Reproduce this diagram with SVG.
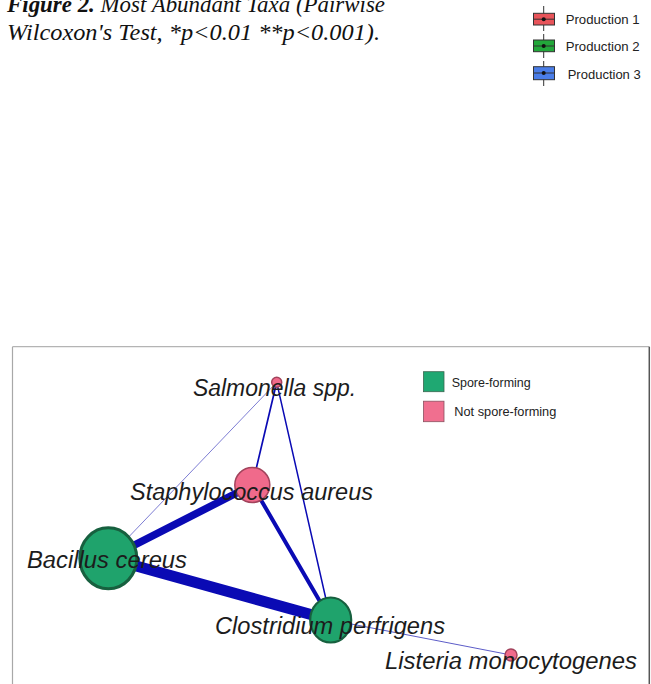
<svg xmlns="http://www.w3.org/2000/svg" width="651" height="684" viewBox="0 0 651 684">
<style>
.cap{font-family:"Liberation Serif","Times New Roman",serif;font-style:italic;font-size:24px;fill:#111}
.lg{font-family:"Liberation Sans",Arial,sans-serif;font-size:13px;fill:#222}
.lbl{font-family:"Liberation Sans",Arial,sans-serif;font-style:italic;font-size:23px;fill:#1c1c1c}
.pink{fill:#f06a8b;stroke:#a2435c;stroke-width:1.5}
.green{fill:#1fa36c;stroke:#17603f;stroke-width:3}
.e{stroke:#0a0ab4;fill:none;stroke-linecap:round}
.box{stroke:#333;stroke-width:1}
</style>
<rect width="651" height="684" fill="#fff"/>
<g id="caption">
<text class="cap" x="7" y="12" textLength="378" lengthAdjust="spacingAndGlyphs"><tspan font-weight="bold">Figure 2.</tspan> Most Abundant Taxa (Pairwise</text>
<text class="cap" x="7" y="39.5" textLength="373" lengthAdjust="spacingAndGlyphs">Wilcoxon's Test, *p&lt;0.01 **p&lt;0.001).</text>
</g>
<g id="production-legend">
<g id="prod1">
<line x1="543.7" y1="6" x2="543.7" y2="31" stroke="#333" stroke-width="1"/>
<rect class="box" x="533.5" y="13.3" width="21" height="11.7" fill="#e8545a"/>
<line x1="533.5" y1="19.2" x2="554.5" y2="19.2" stroke="#333"/>
<circle cx="543.7" cy="19.2" r="2" fill="#111"/>
<text class="lg" x="565.7" y="24" textLength="74" lengthAdjust="spacingAndGlyphs">Production 1</text>
</g>
<g id="prod2">
<line x1="543.7" y1="34" x2="543.7" y2="58" stroke="#333" stroke-width="1"/>
<rect class="box" x="533.5" y="40" width="21" height="11.7" fill="#22a83a"/>
<line x1="533.5" y1="46" x2="554.5" y2="46" stroke="#333"/>
<circle cx="543.7" cy="46" r="2" fill="#111"/>
<text class="lg" x="565.7" y="50.5" textLength="74" lengthAdjust="spacingAndGlyphs">Production 2</text>
</g>
<g id="prod3">
<line x1="543.7" y1="61" x2="543.7" y2="86" stroke="#333" stroke-width="1"/>
<rect class="box" x="533.5" y="66.7" width="21" height="13" fill="#4a7de8"/>
<line x1="533.5" y1="73" x2="554.5" y2="73" stroke="#333"/>
<circle cx="543.7" cy="73" r="2" fill="#111"/>
<text class="lg" x="567.7" y="79" textLength="73" lengthAdjust="spacingAndGlyphs">Production 3</text>
</g>
</g>
<g id="frame">
<line x1="12.5" y1="346.7" x2="649.3" y2="346.7" stroke="#b4b4b4" stroke-width="1.2"/>
<line x1="12.5" y1="346.7" x2="12.5" y2="684" stroke="#a8a8a8" stroke-width="1.2"/>
<line x1="649.3" y1="346.7" x2="649.3" y2="684" stroke="#555" stroke-width="1.5"/>
</g>
<g id="spore-legend">
<rect x="423.5" y="371.7" width="20.5" height="20" fill="#1fa872" stroke="#3a6650" stroke-width="0.8"/>
<text class="lg" x="451.7" y="386.5" textLength="79" lengthAdjust="spacingAndGlyphs">Spore-forming</text>
<rect x="423.5" y="401.2" width="20.5" height="20.5" fill="#f06f8f" stroke="#8a5060" stroke-width="0.8"/>
<text class="lg" x="454.3" y="416" textLength="102" lengthAdjust="spacingAndGlyphs">Not spore-forming</text>
</g>
<g id="connectors">
<line class="e" x1="276.7" y1="382.3" x2="108.3" y2="558.3" stroke-width="0.8" style="stroke:#5c5cc8"/>
<line class="e" x1="276.7" y1="382.3" x2="252.3" y2="485" stroke-width="1.7"/>
<line class="e" x1="276.7" y1="382.3" x2="330.7" y2="620" stroke-width="1.5"/>
<line class="e" x1="252.3" y1="485" x2="108.3" y2="558.3" stroke-width="7.5"/>
<line class="e" x1="108.3" y1="558.3" x2="330.7" y2="620" stroke-width="11"/>
<line class="e" x1="252.3" y1="485" x2="330.7" y2="620" stroke-width="4"/>
<line class="e" x1="330.7" y1="620" x2="511" y2="655" stroke-width="1" style="stroke:#5c5cc8"/>
</g>
<g id="node-salmonella">
<circle class="pink" cx="276.7" cy="382.3" r="5"/>
<text class="lbl" x="193" y="396" textLength="163" lengthAdjust="spacingAndGlyphs">Salmonella spp.</text>
</g>
<g id="node-staphylococcus">
<circle class="pink" cx="252.3" cy="485" r="17.5"/>
<text class="lbl" x="130" y="500" textLength="243" lengthAdjust="spacingAndGlyphs">Staphylococcus aureus</text>
</g>
<g id="node-bacillus">
<ellipse class="green" cx="108.3" cy="558.3" rx="28.5" ry="30.5"/>
<text class="lbl" x="27" y="568" textLength="160" lengthAdjust="spacingAndGlyphs">Bacillus cereus</text>
</g>
<g id="node-clostridium">
<ellipse class="green" cx="330.7" cy="620" rx="20.5" ry="22.5" style="stroke-width:2.2"/>
<text class="lbl" x="215" y="634" textLength="230" lengthAdjust="spacingAndGlyphs">Clostridium perfrigens</text>
</g>
<g id="node-listeria">
<circle class="pink" cx="511" cy="655" r="6"/>
<text class="lbl" x="385" y="669" textLength="252" lengthAdjust="spacingAndGlyphs">Listeria monocytogenes</text>
</g>
</svg>
